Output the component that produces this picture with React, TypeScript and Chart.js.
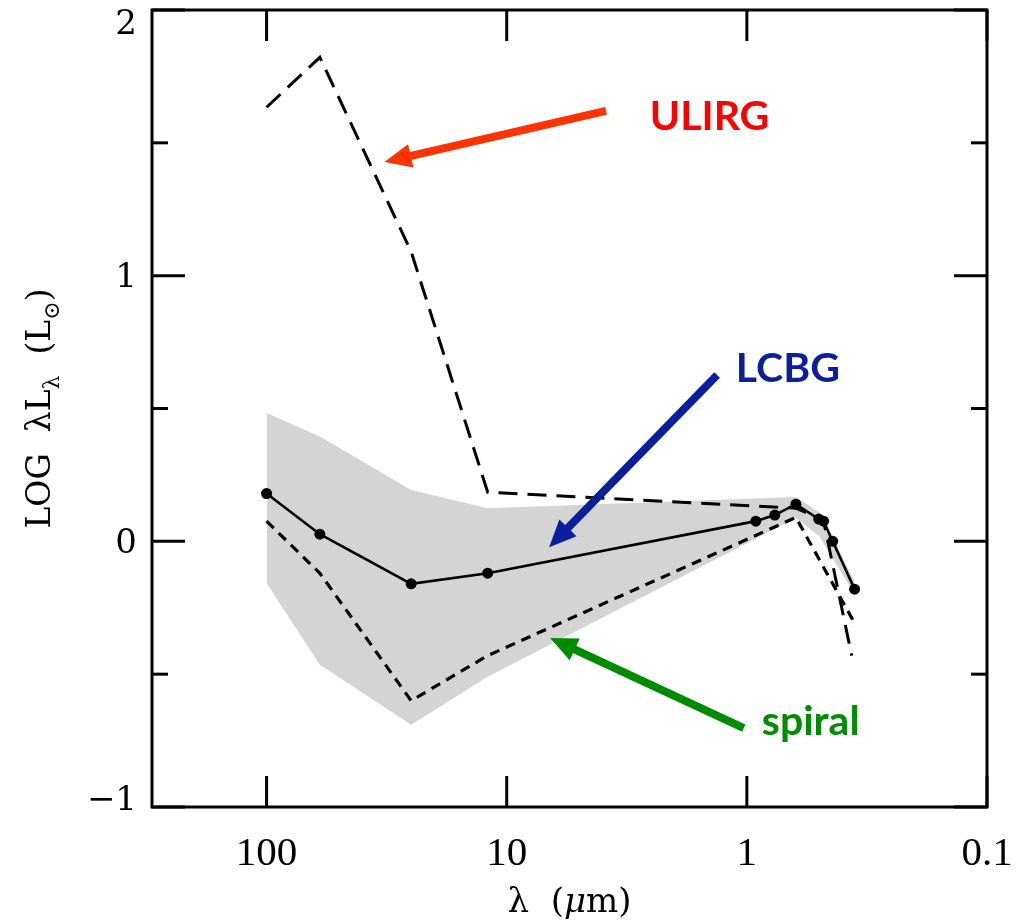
import React, { useEffect, useRef } from 'react';
import { Chart, registerables } from 'chart.js';

Chart.register(...registerables);

// ---- data (wavelength in micron, LOG λLλ in L_sun) ----
const bandWavelengths = [100, 60, 25, 12, 0.625, 0.5, 0.356];
const bandUpper = [0.483, 0.395, 0.193, 0.125, 0.167, 0.11, -0.15];
const bandLower = [-0.157, -0.465, -0.69, -0.51, 0.088, 0.02, -0.2];

const lcbgWavelengths = [100, 60, 25, 12, 0.918, 0.765, 0.625, 0.502, 0.479, 0.439, 0.356];
const lcbgValues = [0.18, 0.027, -0.16, -0.12, 0.076, 0.099, 0.14, 0.084, 0.076, 0.0, -0.18];

const ulirgWavelengths = [100, 60, 25, 12, 0.625, 0.48, 0.366];
const ulirgValues = [1.634, 1.822, 1.09, 0.185, 0.125, 0.08, -0.43];

const spiralWavelengths = [100, 60, 25, 12, 0.625, 0.36];
const spiralValues = [0.076, -0.12, -0.6, -0.43, 0.09, -0.3];

// ---- axes ----
const yMajorTicks = [-1, 0, 1, 2];
const yMinorTicks = [-0.5, 0.5, 1.5];
const yTickLabels = ['\u22121', '0', '1', '2'];
const xTicks = [100, 10, 1, 0.1];
const xTickLabels = ['100', '10', '1', '0.1'];

// ---- annotations (data coordinates) ----
const annotationTexts = ['ULIRG', 'LCBG', 'spiral'];
const annotationTextColors = ['#ff0000', '#0b1f9c', '#008c00'];
const annotationArrowColors = ['#ff3300', '#0b1f9c', '#008c00'];
const annotationTextAt = [[1.43, 1.548], [0.675, 0.6], [0.542, -0.729]];
const annotationArrowFrom = [[3.86, 1.62], [1.33, 0.626], [1.03, -0.703]];
const annotationArrowTo = [[32.3, 1.428], [6.66, -0.022], [6.59, -0.364]];

const pts = (xs: number[], ys: number[]) => xs.map((x, i) => ({ x, y: ys[i] }));

function drawArrow(ctx: CanvasRenderingContext2D, x1: number, y1: number, x2: number, y2: number, color: string) {
  const w = 8, headLen = 27, headHalf = 12;
  const ang = Math.atan2(y2 - y1, x2 - x1);
  const bx = x2 - headLen * Math.cos(ang);
  const by = y2 - headLen * Math.sin(ang);
  ctx.strokeStyle = color;
  ctx.lineWidth = w;
  ctx.lineCap = 'butt';
  ctx.beginPath();
  ctx.moveTo(x1, y1);
  ctx.lineTo(bx + 2 * Math.cos(ang), by + 2 * Math.sin(ang));
  ctx.stroke();
  ctx.fillStyle = color;
  ctx.beginPath();
  ctx.moveTo(x2, y2);
  ctx.lineTo(bx + headHalf * Math.sin(ang), by - headHalf * Math.cos(ang));
  ctx.lineTo(bx - headHalf * Math.sin(ang), by + headHalf * Math.cos(ang));
  ctx.closePath();
  ctx.fill();
}

const decorPlugin = {
  id: 'decor',
  afterDatasetsDraw(chart: any) {
    const { ctx, chartArea: a, scales } = chart;
    const xs = scales.x, ys = scales.y;
    ctx.save();
    ctx.strokeStyle = '#000';
    ctx.lineWidth = 3;
    ctx.lineCap = 'square';
    ctx.strokeRect(a.left, a.top, a.right - a.left, a.bottom - a.top);
    ctx.lineCap = 'butt';
    const hline = (x1: number, x2: number, yy: number) => { ctx.beginPath(); ctx.moveTo(x1, yy); ctx.lineTo(x2, yy); ctx.stroke(); };
    const vline = (xx: number, y1: number, y2: number) => { ctx.beginPath(); ctx.moveTo(xx, y1); ctx.lineTo(xx, y2); ctx.stroke(); };
    yMajorTicks.forEach(v => { const p = ys.getPixelForValue(v); hline(a.left, a.left + 33, p); hline(a.right - 33, a.right, p); });
    yMinorTicks.forEach(v => { const p = ys.getPixelForValue(v); hline(a.left, a.left + 16, p); hline(a.right - 16, a.right, p); });
    xTicks.forEach(v => { const p = xs.getPixelForValue(v); vline(p, a.bottom, a.bottom - 31); vline(p, a.top, a.top + 31); });

    // tick labels
    ctx.fillStyle = '#000';
    ctx.font = '34px "DejaVu Serif"';
    ctx.textAlign = 'right';
    yMajorTicks.forEach((v, i) => {
      const p = ys.getPixelForValue(v);
      if (v === 2) { ctx.textBaseline = 'top'; ctx.fillText(yTickLabels[i], a.left - 15, p - 2); }
      else if (v === -1) { ctx.textBaseline = 'alphabetic'; ctx.fillText(yTickLabels[i], a.left - 15, p + 3); }
      else { ctx.textBaseline = 'middle'; ctx.fillText(yTickLabels[i], a.left - 15, p + 3); }
    });
    ctx.font = '41px "Liberation Serif"';
    ctx.textAlign = 'center';
    ctx.textBaseline = 'alphabetic';
    xTicks.forEach((v, i) => { ctx.fillText(xTickLabels[i], xs.getPixelForValue(v), a.bottom + 58); });

    // x title
    const cx = (a.left + a.right) / 2;
    const xt = [
      { t: '\u03bb  (', f: '34px "DejaVu Serif"' },
      { t: '\u03bc', f: 'italic 34px "DejaVu Serif"' },
      { t: 'm)', f: '34px "DejaVu Serif"' },
    ];
    let tw = 0;
    xt.forEach(p => { ctx.font = p.f; tw += ctx.measureText(p.t).width; });
    let xx = cx - tw / 2;
    ctx.textAlign = 'left';
    xt.forEach(p => { ctx.font = p.f; ctx.fillText(p.t, xx, a.bottom + 105); xx += ctx.measureText(p.t).width; });

    // y title (rotated)
    ctx.save();
    ctx.translate(50, (a.top + a.bottom) / 2);
    ctx.rotate(-Math.PI / 2);
    const big = '33px "DejaVu Serif"', small = '22px "DejaVu Serif"';
    const yt = [
      { t: 'LOG  \u03bbL', f: big, dy: 0 },
      { t: '\u03bb', f: small, dy: 9 },
      { t: '  (L', f: big, dy: 0 },
      { t: '\u2299', f: small, dy: 9 },
      { t: ')', f: big, dy: 0 },
    ];
    tw = 0;
    yt.forEach(p => { ctx.font = p.f; tw += ctx.measureText(p.t).width; });
    let yy = -tw / 2;
    yt.forEach(p => { ctx.font = p.f; ctx.fillText(p.t, yy, p.dy); yy += ctx.measureText(p.t).width; });
    ctx.restore();

    // annotations
    annotationTexts.forEach((t, i) => {
      drawArrow(ctx,
        xs.getPixelForValue(annotationArrowFrom[i][0]), ys.getPixelForValue(annotationArrowFrom[i][1]),
        xs.getPixelForValue(annotationArrowTo[i][0]), ys.getPixelForValue(annotationArrowTo[i][1]),
        annotationArrowColors[i]);
      ctx.fillStyle = annotationTextColors[i];
      ctx.font = 'bold 41px Lato';
      ctx.textAlign = 'center';
      ctx.textBaseline = 'alphabetic';
      ctx.fillText(t, xs.getPixelForValue(annotationTextAt[i][0]), ys.getPixelForValue(annotationTextAt[i][1]));
    });
    ctx.restore();
  },
};

export default function App() {
  const ref = useRef<HTMLCanvasElement>(null);
  useEffect(() => {
    const canvas = ref.current!;
    const chart = new Chart(canvas, {
      type: 'line',
      data: {
        datasets: [
          { label: 'band-lower', data: pts(bandWavelengths, bandLower), borderWidth: 0, borderColor: 'rgba(0,0,0,0)', pointRadius: 0, fill: false, order: 10 },
          { label: 'band-upper', data: pts(bandWavelengths, bandUpper), borderWidth: 0, borderColor: 'rgba(0,0,0,0)', pointRadius: 0, fill: '-1', backgroundColor: '#d4d4d4', order: 10 },
          { label: 'ULIRG', data: pts(ulirgWavelengths, ulirgValues), borderColor: '#000', borderWidth: 3, borderDash: [19, 10], pointRadius: 0, fill: false, order: 3 },
          { label: 'spiral', data: pts(spiralWavelengths, spiralValues), borderColor: '#000', borderWidth: 3.2, borderDash: [10, 7], pointRadius: 0, fill: false, order: 2 },
          { label: 'LCBG', data: pts(lcbgWavelengths, lcbgValues), borderColor: '#000', borderWidth: 2.6, pointRadius: 5.5, pointBackgroundColor: '#000', pointBorderWidth: 0, fill: false, order: 1 },
        ],
      } as any,
      options: {
        animation: false,
        responsive: false,
        devicePixelRatio: 1,
        layout: { padding: { left: 0, top: 10, right: 30, bottom: 0 } },
        plugins: { legend: { display: false }, tooltip: { enabled: false } },
        scales: {
          x: {
            type: 'logarithmic', reverse: true, min: 0.1, max: 300,
            grid: { display: false }, border: { display: false }, ticks: { display: false },
            afterFit: (s: any) => { s.height = 117; },
          },
          y: {
            type: 'linear', min: -1, max: 2,
            grid: { display: false }, border: { display: false }, ticks: { display: false },
            afterFit: (s: any) => { s.width = 152; },
          },
        },
      } as any,
      plugins: [decorPlugin],
    });
    return () => chart.destroy();
  }, []);
  return (
    <div style={{ position: 'fixed', left: 0, top: 0, width: 1017, height: 924, background: '#fff' }}>
      <canvas ref={ref} width={1017} height={924} />
    </div>
  );
}
